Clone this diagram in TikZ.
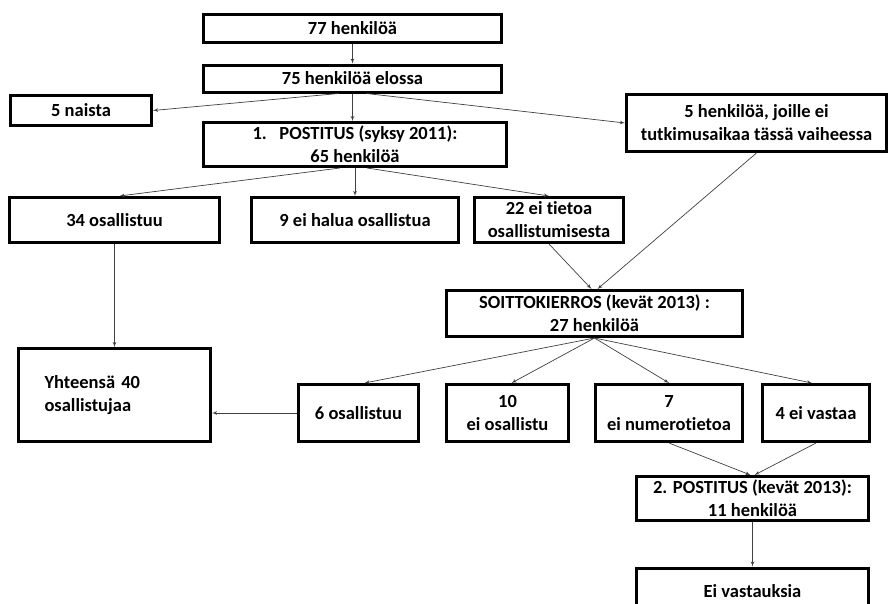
\documentclass[tikz,border=0pt]{standalone}
\usepackage{fontspec}
\setmainfont[Ligatures=NoCommon]{Carlito}
\usetikzlibrary{shapes,arrows}
\tikzstyle{block} = [rectangle, draw, line width=3pt, inner sep=0pt,
    align=center, font=\bfseries\fontsize{18.5}{23}\selectfont]
\tikzstyle{line} = [draw, black!75, line width=0.7pt, -latex']

\begin{document}
\begin{tikzpicture}[x=1pt, y=-1pt]
    \useasboundingbox (0,0) rectangle (890,603);
    % Place nodes
    \node [block, minimum width=298pt, minimum height=28pt] (total) at (352.5,28) {77 henkilöä};
    \node [block, minimum width=298pt, minimum height=27pt] (alive) at (352.5,78.5) {75 henkilöä elossa};
    \node [block, minimum width=141pt, minimum height=30pt] (women) at (81,110.5) {5 naista};
    \node [block, minimum width=303pt, minimum height=44pt] (mail1) at (355,144.5) {1.\ \ \ POSTITUS (syksy 2011):\\65 henkilöä};
    \node [block, minimum width=260pt, minimum height=57pt] (notime) at (756.5,123) {5 henkilöä, joille ei\\tutkimusaikaa tässä vaiheessa};
    \node [block, minimum width=210pt, minimum height=45pt] (part1) at (114.5,220) {34 osallistuu};
    \node [block, minimum width=207pt, minimum height=45pt] (refuse) at (355,220) {9 ei halua osallistua};
    \node [block, minimum width=149pt, minimum height=45pt] (noinfo) at (549,220) {22 ei tietoa\\osallistumisesta};
    \node [block, minimum width=296pt, minimum height=46pt] (calls) at (594.5,313.5) {SOITTOKIERROS (kevät 2013) :\\27 henkilöä};
    \node [block, minimum width=192pt, minimum height=93pt, text width=140pt, align=left] (sum) at (114.5,395) {Yhteensä 40\\osallistujaa};
    \node [block, minimum width=120pt, minimum height=57pt] (part2) at (358.5,413) {6 osallistuu};
    \node [block, minimum width=122pt, minimum height=57pt] (noparticip) at (507.5,413) {10\\ei osallistu};
    \node [block, minimum width=147pt, minimum height=57pt] (nonumber) at (669,413) {7\\ei numerotietoa};
    \node [block, minimum width=107pt, minimum height=57pt] (noanswer) at (816,413) {4 ei vastaa};
    \node [block, minimum width=232pt, minimum height=44pt] (mail2) at (752.5,498.5) {2. POSTITUS (kevät 2013):\\11 henkilöä};
    \node [block, minimum width=232pt, minimum height=46pt] (noreply) at (752.5,591) {Ei vastauksia};
    % Draw edges
    \path [line] (total) -- (alive);
    \path [line] ([xshift=-14pt]alive.south) -- (women.east);
    \path [line] (alive.south) -- (alive.south |- mail1.north);
    \path [line] ([xshift=14pt]alive.south) -- (notime.west);

    \path [line] ([xshift=-15pt]mail1.south) -- ([xshift=5pt]part1.north);
    \path [line] (mail1.south) -- (refuse.north);
    \path [line] ([xshift=12pt]mail1.south) -- (noinfo.north);
    \path [line] (part1) -- (sum);
    \path [line] (part2.west) -- (part2.west -| sum.east);

    \path [line] (noinfo.south) -- ([xshift=-3pt]calls.north);
    \path [line] (notime.south) -- ([xshift=3pt]calls.north);
    \path [line] (calls.south) -- ([xshift=6pt]part2.north);
    \path [line] (calls.south) -- ([xshift=4pt]noparticip.north);
    \path [line] (calls.south) -- (nonumber.north);
    \path [line] (calls.south) -- ([xshift=-4pt]noanswer.north);

    \path [line] (nonumber.south) -- ([xshift=-2pt]mail2.north);
    \path [line] (noanswer.south) -- ([xshift=2pt]mail2.north);
    \path [line] (mail2) -- (noreply);

    \end{tikzpicture}
\end{document}
